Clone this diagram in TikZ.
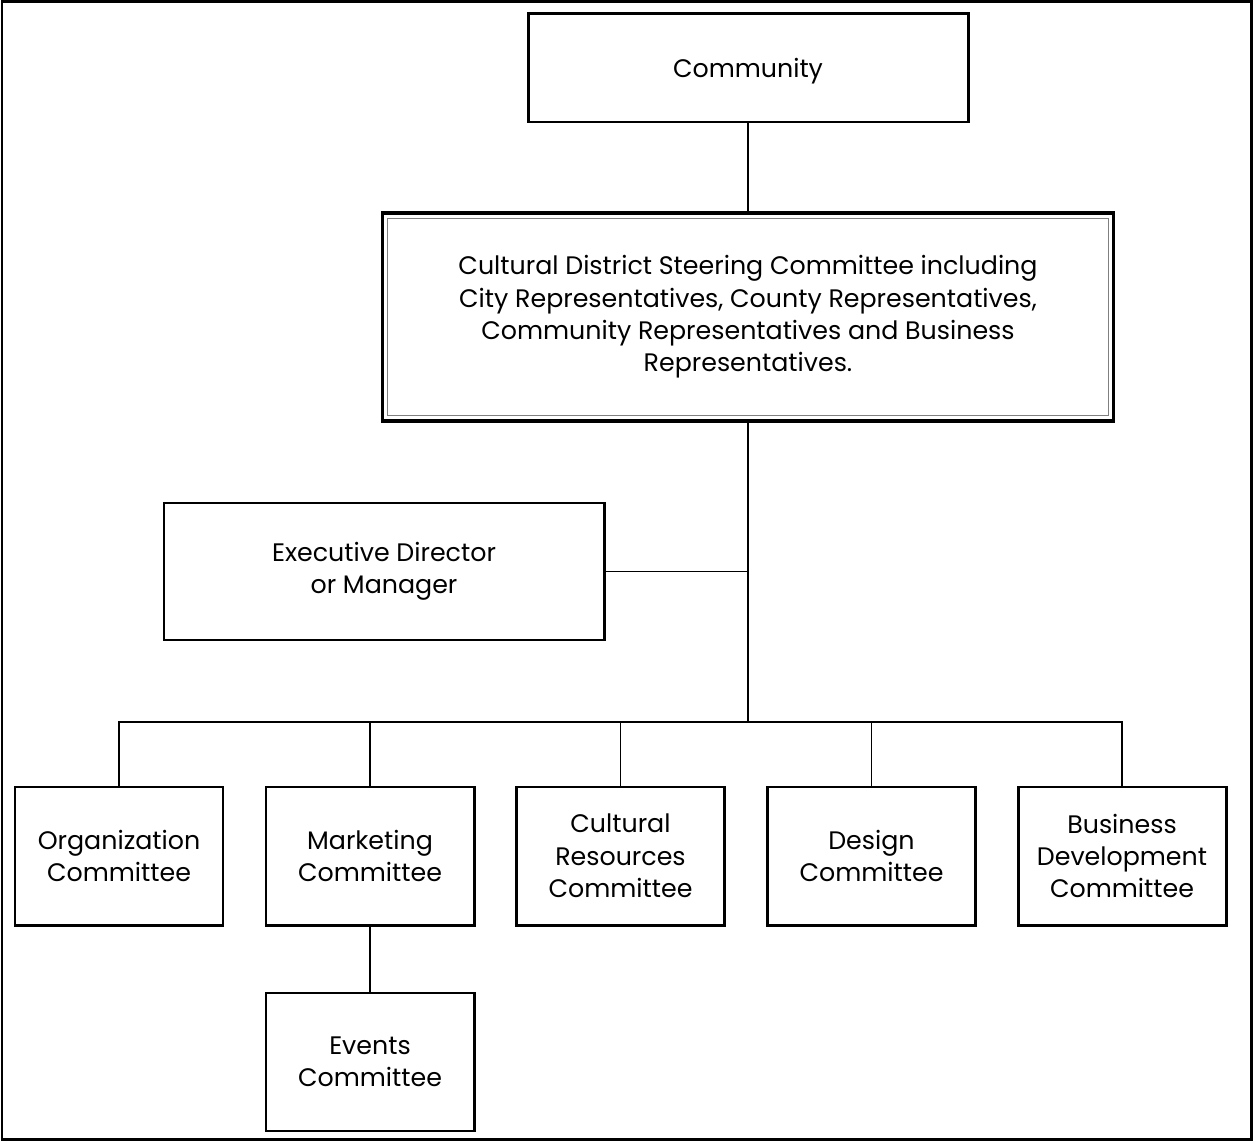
\documentclass[tikz,border=0pt]{standalone}
\usepackage{fontspec}
\setmainfont{Poppins}
\usetikzlibrary{positioning, calc}
\tikzset{
    box/.style={draw, line width=1.7pt, align=center, inner sep=0pt,
        execute at begin node={\rule{0pt}{15pt}}},
    smallbox/.style={box, minimum width=4.16cm, minimum height=2.76cm},
    link/.style={line width=0.85pt},
    every node/.style={font=\fontsize{14.4}{18.4}\selectfont}
}
\begin{document}
\begin{tikzpicture}
    \useasboundingbox (0,0) rectangle (25.06,22.82);
    \draw[line width=1.7pt] (0.04,0.04) rectangle (25.02,22.78);
    % top boxes
    \node[box, minimum width=8.8cm, minimum height=2.16cm] (comm) at (14.96,21.46) {Community};
    \node[box, line width=2pt, minimum width=14.62cm, minimum height=4.16cm] (steer) at (14.96,16.48)
        {Cultural District Steering Committee including\\
         City Representatives, County Representatives,\\
         Community Representatives and Business\\
         Representatives.};
    \draw[gray, line width=0.8pt] ($(steer.north west)+(0.14,-0.14)$) rectangle ($(steer.south east)+(-0.14,0.14)$);
    \node[box, minimum width=8.8cm, minimum height=2.74cm] (exec) at (7.68,11.39) {Executive Director\\or Manager};
    % committees
    \node[smallbox] (org) at (2.38,5.70) {Organization\\Committee};
    \node[smallbox] (mark) at (7.40,5.70) {Marketing\\Committee};
    \node[smallbox] (cult) at (12.41,5.70) {Cultural\\Resources\\Committee};
    \node[smallbox] (design) at (17.43,5.70) {Design\\Committee};
    \node[smallbox] (busi) at (22.44,5.70) {Business\\Development\\Committee};
    \node[smallbox, below=1.3cm of mark] (events) {Events\\Committee};
    % connectors
    \coordinate (hub) at (steer.south |- 0,8.38);
    \draw[link] (comm) -- (steer);
    \draw[link] (steer) -- (hub);
    \draw[link] (exec.east) -- (exec.east -| hub);
    \foreach \c in {org, mark, cult, design, busi}
        \draw[link] (\c.north) |- (hub);
    \draw[link] (mark) -- (events);
\end{tikzpicture}
\end{document}
